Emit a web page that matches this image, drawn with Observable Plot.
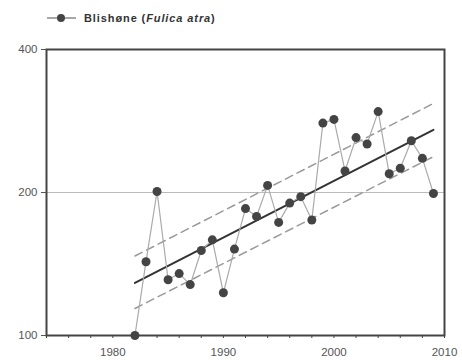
<!DOCTYPE html>
<html>
<head>
<meta charset="utf-8">
<script src="https://cdn.jsdelivr.net/npm/d3@7"></script>
<script src="https://cdn.jsdelivr.net/npm/@observablehq/plot@0.6"></script>
<style>
  body { margin: 0; background: #fff; font-family: "Liberation Sans", Arial, sans-serif; }
  #wrap { position: relative; width: 462px; height: 360px; }
  #legend { position: absolute; left: 47px; top: 12px; display: flex; align-items: center; font-size: 11px; font-weight: bold; color: #333; letter-spacing: 0.9px; }
  #legend svg { margin-right: 8px; }
</style>
</head>
<body>
<div id="wrap">
  <div id="legend">
    <svg width="29" height="12"><line x1="0" y1="6" x2="29" y2="6" stroke="#777" stroke-width="1.3"/><circle cx="14" cy="6" r="4" fill="#444"/></svg>
    <span>Blishøne (<i>Fulica atra</i>)</span>
  </div>
  <div id="chart"></div>
</div>
<script>
const years = [1982,1983,1984,1985,1986,1987,1988,1989,1990,1991,1992,1993,1994,1995,1996,1997,1998,1999,2000,2001,2002,2003,2004,2005,2006,2007,2008,2009];
const counts = [100,143,201,131,135,128,151,159,123,152,185,178,207,173,190,196,175,280,285,222,261,253,296,219,225,257,236,199];

const trendYears = [1982, 2009];
const trendMid = [129, 271];
const trendUpper = [147, 308];
const trendLower = [114, 238];

const yTicks = [100, 200, 400];
const gridValues = [200];
const xTicks = d3.range(1974, 2011, 2);
const xLabelled = [1980, 1990, 2000, 2010];

const series = years.map((y, i) => ({year: y, value: counts[i]}));
const trend = trendYears.map((y, i) => ({year: y, mid: trendMid[i], upper: trendUpper[i], lower: trendLower[i]}));

const chart = Plot.plot({
  width: 462,
  height: 360,
  marginLeft: 46,
  marginRight: 18,
  marginTop: 49,
  marginBottom: 25,
  style: {fontFamily: "Liberation Sans, Arial, sans-serif", fontSize: "11px", color: "#555", background: "transparent"},
  x: {domain: [1974, 2010]},
  y: {type: "log", domain: [100, 400]},
  marks: [
    Plot.ruleY(gridValues, {stroke: "#bbb", strokeWidth: 1.2}),
    Plot.line(trend, {x: "year", y: "upper", stroke: "#999", strokeWidth: 1.5, strokeDasharray: "8,5"}),
    Plot.line(trend, {x: "year", y: "lower", stroke: "#999", strokeWidth: 1.5, strokeDasharray: "8,5"}),
    Plot.line(trend, {x: "year", y: "mid", stroke: "#333", strokeWidth: 2}),
    Plot.line(series, {x: "year", y: "value", stroke: "#aaa", strokeWidth: 1.2}),
    Plot.dot(series, {x: "year", y: "value", r: 4.5, fill: "#444", stroke: "none"}),
    Plot.frame({stroke: "#444", strokeWidth: 2}),
    Plot.axisY({ticks: yTicks, tickFormat: d => String(d), tickSize: 5, tickPadding: 4, stroke: "#555", label: null, fill: "#555", fontSize: 11.5}),
    Plot.axisX({ticks: xTicks, tickFormat: d => xLabelled.includes(d) ? String(d) : "", tickSize: 3, tickPadding: 9, stroke: "#444", label: null, fill: "#555", fontSize: 11.5})
  ]
});
document.getElementById("chart").appendChild(chart);
</script>
</body>
</html>
